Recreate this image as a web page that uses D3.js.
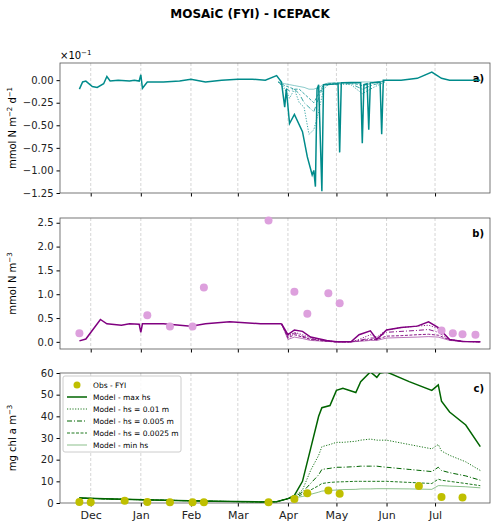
<!DOCTYPE html>
<html><head><meta charset="utf-8">
<script src="https://cdn.jsdelivr.net/npm/d3@7"></script>
<style>body{margin:0;background:#fff}text{font-family:"DejaVu Sans",sans-serif}</style>
</head><body><svg id="c" width="500" height="526"></svg>
<script>
// panel a: flux, x10^-1
const aDates = ["2019-11-24","2019-11-26","2019-11-28","2019-12-02","2019-12-05","2019-12-09","2019-12-11","2019-12-13","2019-12-18","2019-12-25","2019-12-28","2019-12-31","2020-01-01","2020-01-02","2020-01-05","2020-01-15","2020-01-25","2020-02-01","2020-02-10","2020-02-20","2020-03-01","2020-03-10","2020-03-18","2020-03-25","2020-03-28","2020-03-30","2020-03-31","2020-04-02","2020-04-05","2020-04-10","2020-04-13","2020-04-16","2020-04-17","2020-04-18","2020-04-19","2020-04-20","2020-04-22","2020-04-23","2020-05-02","2020-05-03","2020-05-04","2020-05-16","2020-05-17","2020-05-18","2020-05-20","2020-05-21","2020-05-22","2020-05-28","2020-05-29","2020-05-30","2020-06-10","2020-06-20","2020-06-29","2020-07-05","2020-07-10","2020-07-29"];
const aMax = [-0.10,-0.02,-0.01,-0.07,-0.08,-0.04,0.04,-0.01,0.0,-0.01,0.0,-0.01,0.06,-0.09,-0.02,-0.02,-0.01,0.01,-0.02,0.0,0.01,0.01,0.0,0.05,-0.02,-0.30,-0.1,-0.48,-0.38,-0.57,-0.85,-1.05,-1.0,-1.18,-0.1,-0.05,-1.23,-0.05,-0.04,-0.8,-0.03,-0.03,-0.7,-0.05,-0.04,-0.55,-0.03,-0.02,-0.6,0.0,0.0,0.02,0.09,0.02,0.0,0.0];
const aSubDates = ["2020-03-26","2020-03-30","2020-04-02","2020-04-05","2020-04-08","2020-04-11","2020-04-14","2020-04-17","2020-04-20","2020-04-23","2020-04-26","2020-05-01","2020-05-10","2020-05-17","2020-05-24","2020-05-31"];
const aHs01 = [-0.02,-0.1,-0.2,-0.1,-0.25,-0.3,-0.6,-0.55,-0.35,-0.1,-0.05,-0.04,-0.05,-0.15,-0.08,-0.02];
const aHs005 = [-0.02,-0.08,-0.12,-0.1,-0.15,-0.25,-0.3,-0.35,-0.2,-0.06,-0.05,-0.04,-0.04,-0.1,-0.05,-0.02];
const aHs0025 = [-0.02,-0.06,-0.08,-0.1,-0.1,-0.15,-0.2,-0.25,-0.15,-0.05,-0.04,-0.03,-0.03,-0.06,-0.03,-0.01];
const aMin = [-0.02,-0.04,-0.05,-0.06,-0.07,-0.08,-0.1,-0.1,-0.08,-0.05,-0.03,-0.03,-0.02,-0.02,-0.02,-0.01];

// panel b: nitrogen
const bObsDates = ["2019-11-24","2020-01-05","2020-01-19","2020-02-02","2020-02-09","2020-03-20","2020-04-05","2020-04-13","2020-04-26","2020-05-03","2020-07-05","2020-07-12","2020-07-18","2020-07-26"];
const bObs = [0.18,0.56,0.32,0.32,1.14,2.55,1.05,0.59,1.02,0.81,0.24,0.18,0.16,0.15];
const bEarlyDates = ["2019-11-24","2019-11-28","2019-12-07","2019-12-11","2019-12-20","2019-12-25","2019-12-31","2020-01-01","2020-01-02","2020-01-15","2020-02-01","2020-02-10","2020-02-25","2020-03-15","2020-03-28"];
const bEarly = [0.02,0.06,0.47,0.38,0.35,0.38,0.37,0.2,0.38,0.38,0.33,0.38,0.42,0.38,0.38];
const bLateDates = ["2020-03-28","2020-04-01","2020-04-05","2020-04-10","2020-04-15","2020-04-25","2020-05-01","2020-05-10","2020-05-15","2020-05-22","2020-05-26","2020-06-01","2020-06-10","2020-06-20","2020-06-27","2020-07-03","2020-07-10","2020-07-18","2020-07-29"];
const bMax = [0.38,0.15,0.25,0.22,0.1,0.03,0.0,0.0,0.15,0.23,0.05,0.25,0.3,0.33,0.42,0.3,0.05,0.01,0.0];
const bHs01 = [0.38,0.12,0.2,0.15,0.08,0.02,0.0,0.0,0.05,0.15,0.1,0.25,0.3,0.33,0.35,0.28,0.05,0.01,0.0];
const bHs005 = [0.38,0.1,0.18,0.12,0.06,0.02,0.0,0.0,0.03,0.08,0.08,0.2,0.22,0.24,0.26,0.2,0.05,0.01,0.0];
const bHs0025 = [0.38,0.08,0.15,0.1,0.05,0.01,0.0,0.0,0.02,0.05,0.05,0.12,0.13,0.15,0.16,0.14,0.04,0.01,0.0];
const bMin = [0.38,0.05,0.1,0.07,0.03,0.01,0.0,0.0,0.01,0.03,0.03,0.08,0.09,0.1,0.11,0.1,0.03,0.01,0.0];

// panel c: chlorophyll
const cObsDates = ["2019-11-24","2019-12-01","2019-12-22","2020-01-05","2020-01-19","2020-02-02","2020-02-09","2020-03-20","2020-04-05","2020-04-13","2020-04-26","2020-05-03","2020-06-21","2020-07-05","2020-07-18"];
const cObs = [0.5,0.3,1.0,0.5,0.4,0.4,0.4,0.4,1.8,4.5,5.8,4.3,7.8,2.8,2.5];
const cDates = ["2019-11-24","2019-12-15","2020-01-15","2020-02-15","2020-03-15","2020-03-25","2020-04-01","2020-04-05","2020-04-10","2020-04-15","2020-04-20","2020-04-22","2020-04-27","2020-05-01","2020-05-05","2020-05-13","2020-05-16","2020-05-22","2020-05-26","2020-05-28","2020-06-01","2020-06-15","2020-06-29","2020-07-03","2020-07-05","2020-07-10","2020-07-20","2020-07-29"];
const cMax = [2.3,1.8,1.3,0.8,0.5,0.6,2.0,3.5,10,25,40,44,45,52,53,51,56,60.5,58,60,60.5,56,52,54.5,47,42,36,26];
const cHs01 = [2.3,1.8,1.3,0.8,0.5,0.6,2.0,3.0,6,15,22,26,27,28,28,28.5,29,29.5,29,29,29,27,25,27,24,22,19,15];
const cHs005 = [2.3,1.8,1.3,0.8,0.5,0.6,2.0,2.8,5,9,13,15.5,16,16.5,16.5,16.8,17,17,17,16.8,16.5,15.5,14.5,16.5,15,14,12.5,10.5];
const cHs0025 = [2.3,1.8,1.3,0.8,0.5,0.6,2.0,2.6,4,6,8,9,9.5,9.7,9.8,10,10,10,10,10,10,9.5,9,11,10.5,10,9,8];
const cMin = [2.3,1.8,1.3,0.8,0.5,0.6,2.0,2.5,3,4,5,5.5,5.8,6,6.2,6.3,6.5,6.5,6.6,6.6,6.6,6.5,6.3,8,8,7.8,7.5,7];

const months = ["2019-12-01","2020-01-01","2020-02-01","2020-03-01","2020-04-01","2020-05-01","2020-06-01","2020-07-01"];
const monthLabels = ["Dec","Jan","Feb","Mar","Apr","May","Jun","Jul"];

const P = d3.timeParse("%Y-%m-%d");
const svg = d3.select("#c");
const L = 60, R = 490;
const x = d3.scaleTime().domain([P("2019-11-12"), P("2020-08-04")]).range([L, R]);

svg.append("text").attr("x", 250).attr("y", 18).attr("text-anchor", "middle")
  .attr("font-size", 12).attr("font-weight", "bold").text("MOSAiC (FYI) - ICEPACK");

function panel(top, bottom, domain, ticks, fmt, label, tag) {
  const y = d3.scaleLinear().domain(domain).range([bottom, top]);
  const g = svg.append("g");
  g.selectAll(".gl").data(months).join("line")
    .attr("x1", d => x(P(d))).attr("x2", d => x(P(d))).attr("y1", top).attr("y2", bottom)
    .attr("stroke", "#ccc").attr("stroke-width", 0.8).attr("stroke-dasharray", "3,2");
  const ya = g.append("g").attr("transform", `translate(${L},0)`)
    .call(d3.axisLeft(y).tickValues(ticks).tickFormat(fmt).tickSize(3.5));
  ya.selectAll("text").attr("font-size", 10).attr("fill", "#222");
  ya.select(".domain").remove();
  const xa = g.append("g").attr("transform", `translate(0,${bottom})`)
    .call(d3.axisBottom(x).tickValues(months.map(P)).tickFormat((d, i) => tag === "c)" ? monthLabels[i] : "").tickSize(3.5));
  xa.selectAll("text").attr("font-size", 11).attr("fill", "#222").attr("dy", "0.9em");
  xa.select(".domain").remove();
  g.append("rect").attr("x", L).attr("y", top).attr("width", R - L).attr("height", bottom - top)
    .attr("fill", "none").attr("stroke", "#555").attr("stroke-width", 0.8);
  const t = g.append("text").attr("transform", `translate(16,${(top + bottom) / 2}) rotate(-90)`)
    .attr("text-anchor", "middle").attr("font-size", 10);
  label.forEach(([s, up]) => t.append("tspan").attr("baseline-shift", up ? "super" : null)
    .attr("font-size", up ? 7 : 10).text(s));
  g.append("text").attr("x", 484).attr("y", top + 19).attr("text-anchor", "end")
    .attr("font-size", 10).attr("font-weight", "bold").text(tag);
  const clip = "cl" + tag[0];
  svg.append("clipPath").attr("id", clip).append("rect").attr("x", L).attr("y", top).attr("width", R - L).attr("height", bottom - top);
  return { y, g: svg.append("g").attr("clip-path", `url(#${clip})`), free: svg.append("g") };
}

function line(g, y, dates, vals, color, w, dash) {
  g.append("path").datum(dates.map((d, i) => [P(d), vals[i]]))
    .attr("d", d3.line().x(d => x(d[0])).y(d => y(d[1])))
    .attr("fill", "none").attr("stroke", color).attr("stroke-width", w).attr("stroke-dasharray", dash);
}
function dots(g, y, dates, vals, color) {
  g.selectAll(null).data(dates.map((d, i) => [P(d), vals[i]])).join("circle")
    .attr("cx", d => x(d[0])).attr("cy", d => y(d[1])).attr("r", 4).attr("fill", color);
}

const styles = [["1.2,1.5", 1], ["5,2,1,2", 1], ["3,1.5", 1], [null, 0.6]];

// a
const A = panel(63, 193, [-1.25, 0.19], [0, -0.25, -0.5, -0.75, -1.0, -1.25], d3.format(".2f"),
  [["mmol N m", false], ["\u22122", true], [" d", false], ["\u22121", true]], "a)");
svg.append("text").attr("x", 60).attr("y", 59).attr("font-size", 10).text("\u00d710")
  .append("tspan").attr("baseline-shift", "super").attr("font-size", 7).text("\u22121");
[aHs01, aHs005, aHs0025, aMin].forEach((v, i) => line(A.g, A.y, aSubDates, v, "#3aa6a6", styles[i][1], styles[i][0]));
line(A.g, A.y, aDates, aMax, "#008b8b", 1.5, null);

// b
const B = panel(218, 349, [-0.15, 2.6], [0, 0.5, 1.0, 1.5, 2.0, 2.5], d3.format(".1f"),
  [["mmol N m", false], ["\u22123", true]], "b)");
dots(B.free, B.y, bObsDates, bObs, "#dda0dd");
[bHs01, bHs005, bHs0025, bMin].forEach((v, i) => line(B.g, B.y, bLateDates, v, "#8b1a8b", styles[i][1], styles[i][0]));
line(B.g, B.y, bEarlyDates, bEarly, "#800080", 1.5, null);
line(B.g, B.y, bLateDates, bMax, "#800080", 1.5, null);

// c
const C = panel(373, 503, [0, 60], [0, 10, 20, 30, 40, 50, 60], d3.format("d"),
  [["mg chl ", false], ["a", false], [" m", false], ["\u22123", true]], "c)");
line(C.g, C.y, cDates, cMin, "#5aa55a", 0.7, null);
line(C.g, C.y, cDates, cHs0025, "#1e781e", 1, "3,1.5");
line(C.g, C.y, cDates, cHs005, "#006400", 1, "5,2,1,2");
line(C.g, C.y, cDates, cHs01, "#1e781e", 1, "1.2,1.5");
line(C.g, C.y, cDates, cMax, "#006400", 1.5, null);
dots(C.free, C.y, cObsDates, cObs, "#bfbf00");

// legend
const leg = svg.append("g").attr("transform", "translate(63,376)");
leg.append("rect").attr("width", 118).attr("height", 76).attr("fill", "#fff").attr("fill-opacity", 0.85)
  .attr("stroke", "#ccc").attr("rx", 2);
const items = [["Obs - FYI", "dot"], ["Model - max hs", [null, 1.5, "#006400"]], ["Model - hs = 0.01 m", ["1.2,1.5", 1, "#1e781e"]],
  ["Model - hs = 0.005 m", ["5,2,1,2", 1, "#006400"]], ["Model - hs = 0.0025 m", ["3,1.5", 1, "#1e781e"]], ["Model - min hs", [null, 0.7, "#5aa55a"]]];
items.forEach(([t, s], i) => {
  const yy = 9 + i * 12;
  if (s === "dot") leg.append("circle").attr("cx", 14).attr("cy", yy).attr("r", 3.5).attr("fill", "#bfbf00");
  else leg.append("line").attr("x1", 4).attr("x2", 24).attr("y1", yy).attr("y2", yy)
    .attr("stroke", s[2]).attr("stroke-width", s[1]).attr("stroke-dasharray", s[0]);
  leg.append("text").attr("x", 30).attr("y", yy + 3).attr("font-size", 7.5).text(t);
});
</script></body></html>
